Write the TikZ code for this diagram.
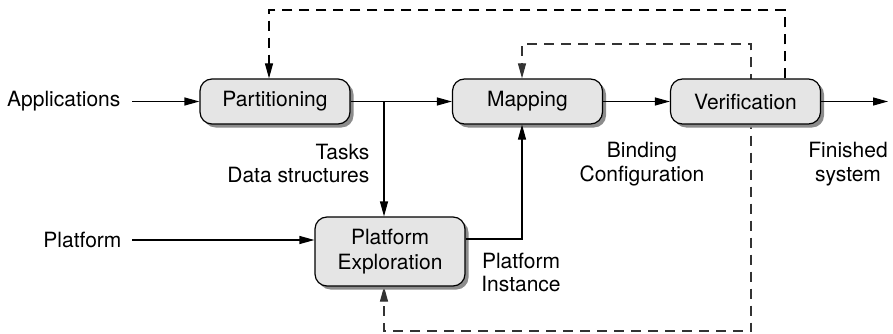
\documentclass[tikz,border=0pt]{standalone}
\usepackage{fontspec}
\setmainfont{TeX Gyre Heros}
\usetikzlibrary{arrows.meta,shadows,backgrounds}
\begin{document}
\begin{tikzpicture}[x=1pt,y=-1pt,
  font=\fontsize{21}{23.5}\selectfont,
  line width=1.2pt,
  stage/.style={draw, rounded corners=12pt, fill=black!10, minimum height=45pt,
    minimum width=150pt, align=center, inner sep=0pt,
    drop shadow={shadow xshift=3.5pt, shadow yshift=-3.5pt, fill=black!45, opacity=1}},
  flow/.style={line width=1.2pt, -{Triangle[length=15pt,width=8pt]}},
  feedback/.style={flow, dash pattern=on 10pt off 7pt},
  lbl/.style={align=center, inner sep=0pt}
]
\useasboundingbox (0,0) rectangle (893,334);

% processing stages
\node[stage] (part)  at (275,101.5) {Partitioning};
\node[stage] (map)   at (527.5,101.5) {Mapping};
\node[stage] (verif) at (745.5,101.5) {Verification};
\node[stage, minimum height=69pt] (pe) at (390,251.5) {Platform\\[1pt]Exploration};

% inputs and output
\node[lbl, anchor=east] (app)  at (121,101.5) {Applications};
\node[lbl, anchor=east] (plat) at (122,240) {Platform};
\coordinate (out) at (888,101.5);

% routing points
\coordinate (j)   at (384,101.5);
\coordinate (mx)  at (522,239);
\coordinate (vo)  at (785,101.5);
\coordinate (t1)  at (269,10);
\coordinate (vi)  at (751,101.5);
\coordinate (t2)  at (522,44);
\coordinate (t3)  at (384,331);

% data flow
\draw[flow] ([xshift=11pt]app.east) -- (part.west);
\draw[flow] ([xshift=10pt]plat.east) -- (plat.east -| pe.west);
\draw[flow] (part.east) -- (map.west);
\draw[flow] (j) -- (j |- pe.north);
\draw[flow] (mx -| pe.east) -- (mx) -- (mx |- map.south);
\draw[flow] (map.east) -- (verif.west);
\draw[flow] (verif.east) -- (out);

% feedback loops
\draw[feedback] (vo |- verif.north) |- (t1) -- (t1 |- part.north);
\begin{scope}[on background layer]
  \draw[feedback, draw=black!80] (vi) |- (t2) -- (t2 |- map.north);
  \draw[feedback, draw=black!80] (vi) |- (t3) -- (t3 |- pe.south);
\end{scope}

% intermediate results
\node[lbl, anchor=east, align=right] (tasks) at (370,163.5) {Tasks\\Data structures};
\node[lbl] (bind) at (642,164) {Binding\\Configuration};
\node[lbl] (inst) at (521,272.5) {Platform\\Instance};
\node[lbl] (fin)  at (848,164) {Finished\\system};
\end{tikzpicture}
\end{document}
